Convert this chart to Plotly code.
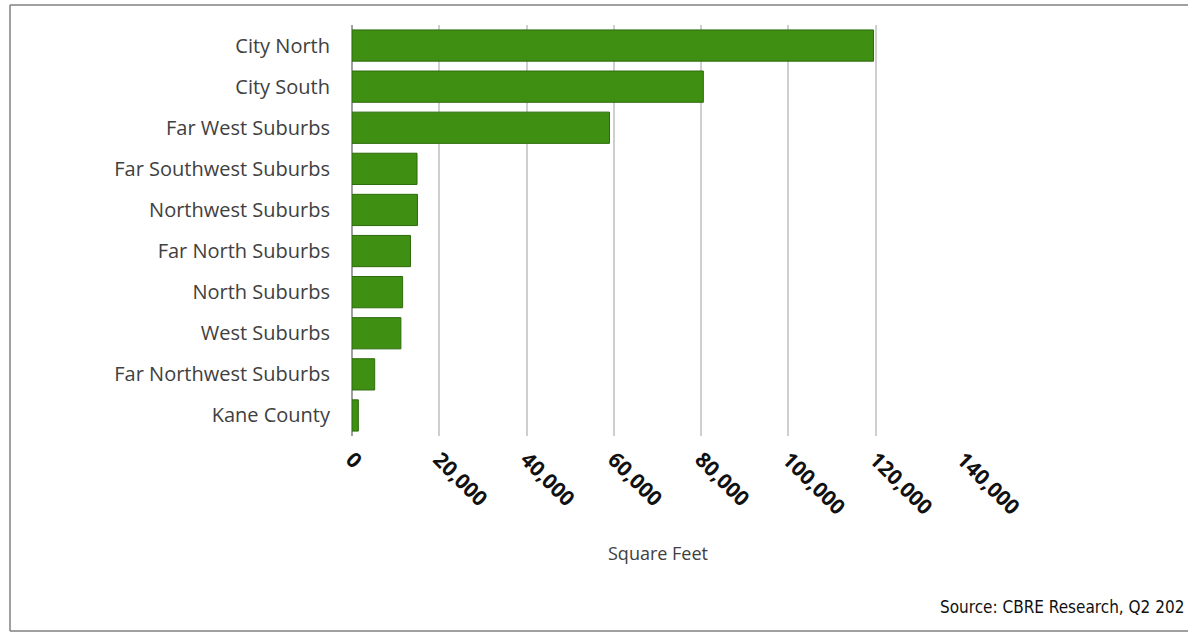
import plotly.graph_objects as go

categories = ["City North", "City South", "Far West Suburbs", "Far Southwest Suburbs",
              "Northwest Suburbs", "Far North Suburbs", "North Suburbs", "West Suburbs",
              "Far Northwest Suburbs", "Kane County"]
square_feet = [119500, 80500, 59000, 14900, 15000, 13400, 11600, 11200, 5200, 1450]
tick_values = [0, 20000, 40000, 60000, 80000, 100000, 120000, 140000]
x_title = "Square Feet"
source_text = "Source: CBRE Research, Q2 202"

W, H = 1188, 632
L, R, T, B = 352, 963, 25, 436

def px_x(p):
    return (p - L) / (R - L)

def px_y(p):
    return (B - p) / (B - T)

fig = go.Figure(go.Bar(
    y=categories, x=square_feet, orientation="h",
    marker=dict(color="#3f9012", line=dict(color="#2c6a0c", width=1)),
    width=0.76,
))

frame = dict(type="line", xref="paper", yref="paper",
             line=dict(color="#808080", width=1.5), layer="below")

fig.update_layout(
    width=W, height=H,
    margin=dict(l=L, r=W - R, t=T, b=H - B),
    paper_bgcolor="white", plot_bgcolor="white",
    showlegend=False,
    xaxis=dict(
        range=[0, 140000], tickvals=tick_values, tickformat=",",
        tickangle=45, showgrid=True, gridcolor="#cfcfcf", gridwidth=2,
        zeroline=True, zerolinecolor="#a0a0a0", zerolinewidth=2,
        showline=False, ticks="", ticklabelstandoff=6,
        tickfont=dict(family="Open Sans", size=21, color="#111111", weight="bold"),
    ),
    yaxis=dict(
        categoryorder="array", categoryarray=categories[::-1],
        showgrid=False, ticks="", showline=False, ticklabelstandoff=21,
        tickfont=dict(family="Open Sans", size=20, color="#404040"),
    ),
    annotations=[
        dict(text=x_title, x=0.5, y=px_y(553), xref="paper", yref="paper",
             showarrow=False, xanchor="center", yanchor="middle",
             font=dict(family="Open Sans", size=18, color="#404040")),
        dict(text=source_text, x=px_x(1186), y=px_y(607), xref="paper", yref="paper",
             showarrow=False, xanchor="right", yanchor="middle",
             font=dict(family="DejaVu Sans Condensed, Liberation Sans Narrow, Roboto Condensed, Roboto",
                       size=17, color="#111111")),
    ],
    shapes=[
        dict(frame, x0=px_x(10), x1=px_x(1188), y0=px_y(5), y1=px_y(5)),
        dict(frame, x0=px_x(10), x1=px_x(10), y0=px_y(5), y1=px_y(631)),
        dict(frame, x0=px_x(10), x1=px_x(1188), y0=px_y(631), y1=px_y(631)),
    ],
)

fig.write_html("out.html", config={"displayModeBar": False},
               post_script="document.body.style.margin='0';document.body.style.overflow='hidden';")
